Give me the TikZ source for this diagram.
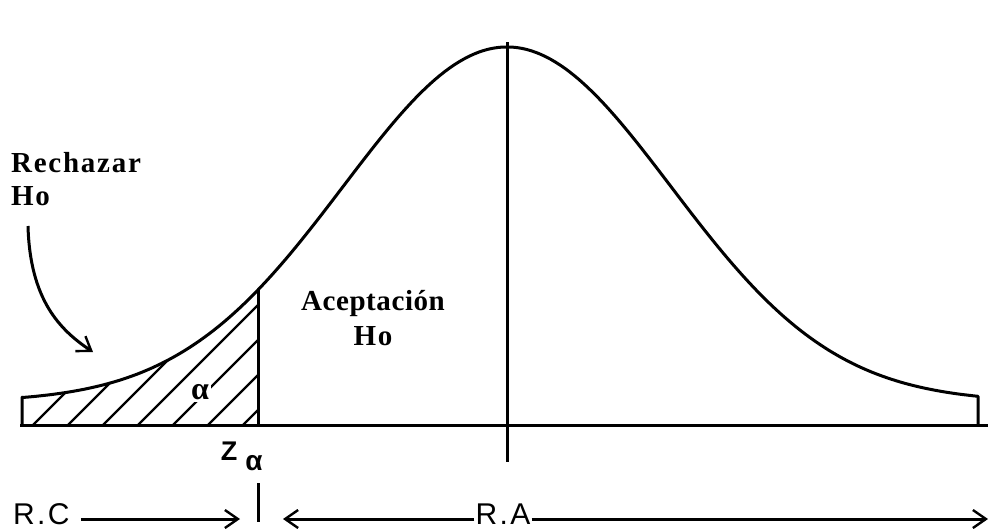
\documentclass[tikz,border=0pt]{standalone}
\usepackage{fontspec}
\setmainfont{Liberation Serif}
\setsansfont{Liberation Sans}
\usetikzlibrary{arrows.meta}
\begin{document}
\begin{tikzpicture}[x=1pt,y=-1pt,
  ln/.style={line width=3pt},
  barb/.style={-{Straight Barb[length=13pt,width=18pt,line width=2.4pt]}},
  lbl/.style={font=\fontsize{29}{32}\selectfont\bfseries\addfontfeature{LetterSpace=6}, inner sep=1pt},
  lblb/.style={font=\fontsize{29}{32}\selectfont\bfseries\addfontfeature{LetterSpace=2}, inner sep=1pt},
  sflbl/.style={font=\sffamily\fontsize{30}{32}\selectfont\addfontfeature{LetterSpace=8}, inner sep=1pt},
  hatch/.style={line width=2.4pt}]
\useasboundingbox (0,0) rectangle (992,531);
\def\gauss(#1){402-355*exp(-((#1-507)/164)^2/2)}
% hatching
\begin{scope}
  \clip (22,425) -- plot[domain=22:258,samples=60] ({\x},{\gauss(\x)}) -- (258,425) -- cycle;
  \foreach \s in {30,65,100,135,170,205,240,275,310}
    \draw[hatch] (\s,428) -- ++(170,-170);
\end{scope}
% curve
\draw[ln,line join=round] (22,425) -- (22,397) -- plot[domain=22:978,samples=200] ({\x},{\gauss(\x)}) -- (978,425);
% axis
\draw[ln] (20,425) -- (988,425);
% centre line
\draw[ln] (507,42) -- (507,462);
% critical line
\draw[ln] (258,{\gauss(258)}) -- (258,425);
% alpha label
\node[fill=white,inner sep=2pt,font=\fontsize{32}{32}\selectfont\bfseries] (alpha) at (200,392) {α};
% texts
\node[lbl,anchor=west] (rech) at (10,163) {Rechazar};
\node[lbl,anchor=west] (rho) at (10,196) {Ho};
\node[lblb] (acep) at (373,304) {Aceptación};
\node[lbl] (aho) at (373,336) {Ho};
\node[font=\sffamily\bfseries\fontsize{27}{27}\selectfont,inner sep=0pt] (za) at (229,451) {Z};
\node[font=\sffamily\bfseries\fontsize{28}{28}\selectfont,inner sep=0pt] (zsub) at (254,463) {α};
% rechazar arrow
\coordinate (rs) at (28,226);
\coordinate (re) at (93,352);
\draw[ln,barb] (rs) .. controls (30,300) and (60,330) .. (re);
% bottom
\node[sflbl,anchor=south west] (rc) at (12,526) {R.C};
\node[sflbl,anchor=south] (ra) at (503,526) {R.A};
\coordinate (rcend) at (240,519);
\coordinate (raleft) at (283,519);
\coordinate (raright) at (988,519);
\draw[ln,barb] (rc.east |- rcend) ++(10,0) -- (rcend);
\draw[ln,barb] (ra.west |- raleft) -- (raleft);
\draw[ln,barb] (ra.east |- raright) -- (raright);
\draw[ln] (258,483) -- (258,522);
\end{tikzpicture}
\end{document}
